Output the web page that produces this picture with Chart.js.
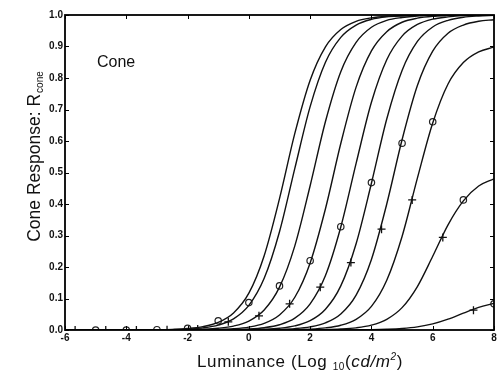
<!DOCTYPE html>
<html>
<head>
<meta charset="utf-8">
<script src="https://cdn.jsdelivr.net/npm/chart.js@4.4.0/dist/chart.umd.min.js"></script>
<style>
  html, body { margin: 0; padding: 0; background: #fff; }
</style>
</head>
<body>
<canvas id="coneChart" width="504" height="372"></canvas>
<script>
// luminance samples (log10 cd/m^2)
const xs = [-6, -5.5, -5, -4.5, -4, -3.5, -3, -2.5, -2, -1.5, -1, -0.5, 0, 0.5, 1, 1.5,
  2, 2.5, 3, 3.5, 4, 4.5, 5, 5.5, 6, 6.5, 7, 7.5, 8];

// one response curve per adaptation level
const curveM1 = [0, 0, 0, 0, 0.0002, 0.0004, 0.0009, 0.002, 0.0046, 0.0106, 0.0242, 0.0543, 0.117, 0.236, 0.417, 0.624,
  0.793, 0.899, 0.954, 0.98, 0.991, 0.996, 0.998, 0.999, 1, 1, 1, 1, 1];
const curve0 = [0, 0, 0, 0, 0.0001, 0.0002, 0.0006, 0.0013, 0.0029, 0.0068, 0.0155, 0.0352, 0.078, 0.164, 0.312, 0.513,
  0.709, 0.85, 0.929, 0.968, 0.986, 0.994, 0.997, 0.999, 1, 1, 1, 1, 1];
const curve1 = [0, 0, 0, 0, 0, 0.0001, 0.0002, 0.0004, 0.001, 0.0024, 0.0055, 0.0125, 0.0285, 0.0636, 0.136, 0.267,
  0.458, 0.662, 0.82, 0.913, 0.961, 0.983, 0.992, 0.997, 0.999, 1, 1, 1, 1];
const curve2 = [0, 0, 0, 0, 0, 0, 0.0001, 0.0001, 0.0003, 0.0008, 0.0017, 0.004, 0.0093, 0.0212, 0.0478, 0.104,
  0.213, 0.385, 0.592, 0.771, 0.886, 0.947, 0.977, 0.99, 0.996, 0.998, 0.999, 1, 1];
const curve3 = [0, 0, 0, 0, 0, 0, 0, 0, 0.0001, 0.0002, 0.0006, 0.0013, 0.0031, 0.0073, 0.0166, 0.0375,
  0.083, 0.173, 0.327, 0.529, 0.723, 0.858, 0.933, 0.97, 0.987, 0.994, 0.998, 0.999, 1];
const curve4 = [0, 0, 0, 0, 0, 0, 0, 0, 0, 0.0001, 0.0002, 0.0005, 0.001, 0.0024, 0.0056, 0.0129,
  0.0294, 0.0657, 0.14, 0.274, 0.466, 0.67, 0.824, 0.916, 0.962, 0.983, 0.993, 0.997, 0.999];
const curve5 = [0, 0, 0, 0, 0, 0, 0, 0, 0, 0, 0.0001, 0.0001, 0.0003, 0.0008, 0.0019, 0.0043,
  0.0099, 0.0227, 0.051, 0.111, 0.224, 0.4, 0.604, 0.776, 0.885, 0.942, 0.968, 0.98, 0.985];
const curve6 = [0, 0, 0, 0, 0, 0, 0, 0, 0, 0, 0, 0, 0, 0.0001, 0.0005, 0.0012,
  0.0028, 0.0066, 0.015, 0.034, 0.075, 0.158, 0.297, 0.482, 0.657, 0.781, 0.849, 0.883, 0.898];
const curve7 = [0, 0, 0, 0, 0, 0, 0, 0, 0, 0, 0, 0, 0, 0, 0.0001, 0.0003,
  0.0006, 0.0013, 0.003, 0.0068, 0.0154, 0.034, 0.071, 0.138, 0.234, 0.334, 0.41, 0.457, 0.48];
const curve8 = [0, 0, 0, 0, 0, 0, 0, 0, 0, 0, 0, 0, 0, 0, 0, 0,
  0, 0.0001, 0.0002, 0.0005, 0.001, 0.0023, 0.0048, 0.0099, 0.0194, 0.0345, 0.0535, 0.0716, 0.0846];

// markers
const circleX = [-5, -4, -3, -2, -1, 0, 1, 2, 3, 4, 5, 6, 7, 8];
const circleY = [0, 0, 0.001, 0.005, 0.029, 0.087, 0.14, 0.22, 0.328, 0.468, 0.593, 0.661, 0.413, 0.083];
const plusX = [-5.67, -4.67, -3.67, -2.67, -1.67, -0.67, 0.33, 1.33, 2.33, 3.33, 4.33, 5.33, 6.33, 7.33];
const plusY = [0, 0, 0, 0.001, 0.003, 0.026, 0.045, 0.083, 0.136, 0.214, 0.32, 0.413, 0.294, 0.063];

const xTicks = [-6, -4, -2, 0, 2, 4, 6, 8];
const yTicks = [0, 0.1, 0.2, 0.3, 0.4, 0.5, 0.6, 0.7, 0.8, 0.9, 1.0];

const curves = [curveM1, curve0, curve1, curve2, curve3, curve4, curve5, curve6, curve7, curve8];

const datasets = curves.map((c) => ({
  type: "line",
  data: c.map((v, i) => ({ x: xs[i], y: v })),
  borderColor: "#111",
  borderWidth: 1.4,
  pointRadius: 0,
  cubicInterpolationMode: "monotone",
  fill: false,
}));

datasets.push({
  type: "scatter",
  data: circleX.map((v, i) => ({ x: v, y: circleY[i] })),
  pointStyle: "circle",
  pointRadius: 3.2,
  borderColor: "#222",
  borderWidth: 1.2,
  backgroundColor: "rgba(0,0,0,0)",
});
datasets.push({
  type: "scatter",
  data: plusX.map((v, i) => ({ x: v, y: plusY[i] })),
  pointStyle: "cross",
  pointRadius: 4,
  borderColor: "#111",
  borderWidth: 1.3,
});

const FONT = '"Liberation Sans", Arial, sans-serif';

const framePlugin = {
  id: "framePlugin",
  afterDatasetsDraw(chart) {
    const { ctx, chartArea: a, scales } = chart;
    ctx.save();
    ctx.strokeStyle = "#000";
    ctx.lineWidth = 1;
    // inward ticks
    ctx.beginPath();
    yTicks.forEach((v) => {
      const py = Math.round(scales.y.getPixelForValue(v)) + 0.5;
      ctx.moveTo(a.left, py);
      ctx.lineTo(a.left + 4, py);
      ctx.moveTo(a.right, py);
      ctx.lineTo(a.right - 4, py);
    });
    xTicks.forEach((v) => {
      const px = Math.round(scales.x.getPixelForValue(v)) + 0.5;
      ctx.moveTo(px, a.bottom);
      ctx.lineTo(px, a.bottom - 4);
      ctx.moveTo(px, a.top);
      ctx.lineTo(px, a.top + 4);
    });
    ctx.stroke();
    // box
    ctx.lineWidth = 1.8;
    ctx.strokeRect(a.left, a.top, a.right - a.left, a.bottom - a.top);

    // label inside the plot
    ctx.fillStyle = "#111";
    ctx.font = "16px " + FONT;
    ctx.textBaseline = "alphabetic";
    ctx.textAlign = "left";
    ctx.fillText("Cone", 97, 67);

    // x axis title with sub/superscript
    const parts = [
      { t: "Luminance (Log ", f: "17px " + FONT, dy: 0 },
      { t: "10", f: "10px " + FONT, dy: 3 },
      { t: "(", f: "17px " + FONT, dy: 0 },
      { t: "cd/m", f: "italic 17px " + FONT, dy: 0 },
      { t: "2", f: "italic 10px " + FONT, dy: -7 },
      { t: ")", f: "17px " + FONT, dy: 0 },
    ];
    ctx.letterSpacing = "0.6px";
    let w = 0;
    parts.forEach((p) => { ctx.font = p.f; p.w = ctx.measureText(p.t).width; w += p.w; });
    let x = 300 - w / 2;
    parts.forEach((p) => { ctx.font = p.f; ctx.fillText(p.t, x, 367 + p.dy); x += p.w; });
    ctx.letterSpacing = "0px";

    // y axis title
    ctx.translate(40, 157);
    ctx.rotate(-Math.PI / 2);
    const main = "Cone Response: R";
    const sub = "cone";
    ctx.font = "17.5px " + FONT;
    const w1 = ctx.measureText(main).width;
    ctx.font = "10px " + FONT;
    const w2 = ctx.measureText(sub).width;
    const sx = -(w1 + w2) / 2;
    ctx.font = "17.5px " + FONT;
    ctx.fillText(main, sx, 0);
    ctx.font = "10px " + FONT;
    ctx.fillText(sub, sx + w1 + 1, 3);
    ctx.restore();
  },
};

new Chart(document.getElementById("coneChart"), {
  data: { datasets: datasets },
  options: {
    responsive: false,
    animation: false,
    devicePixelRatio: 1,
    layout: { padding: { top: 15, right: 10, left: 0, bottom: 0 } },
    plugins: { legend: { display: false }, tooltip: { enabled: false } },
    scales: {
      x: {
        type: "linear",
        min: -6,
        max: 8,
        afterFit: (s) => { s.height = 42; },
        afterBuildTicks: (s) => { s.ticks = xTicks.map((v) => ({ value: v })); },
        grid: { display: false, drawTicks: false, tickLength: 0 },
        border: { display: false },
        ticks: {
          color: "#111",
          padding: 2,
          maxRotation: 0,
          font: { family: FONT, size: 10, weight: "bold" },
        },
      },
      y: {
        type: "linear",
        min: 0,
        max: 1,
        afterFit: (s) => { s.width = 65; },
        afterBuildTicks: (s) => { s.ticks = yTicks.map((v) => ({ value: v })); },
        grid: { display: false, drawTicks: false, tickLength: 0 },
        border: { display: false },
        ticks: {
          color: "#111",
          padding: 2,
          font: { family: FONT, size: 10, weight: "bold" },
          callback: (v) => v.toFixed(1),
        },
      },
    },
  },
  plugins: [framePlugin],
});
</script>
</body>
</html>
